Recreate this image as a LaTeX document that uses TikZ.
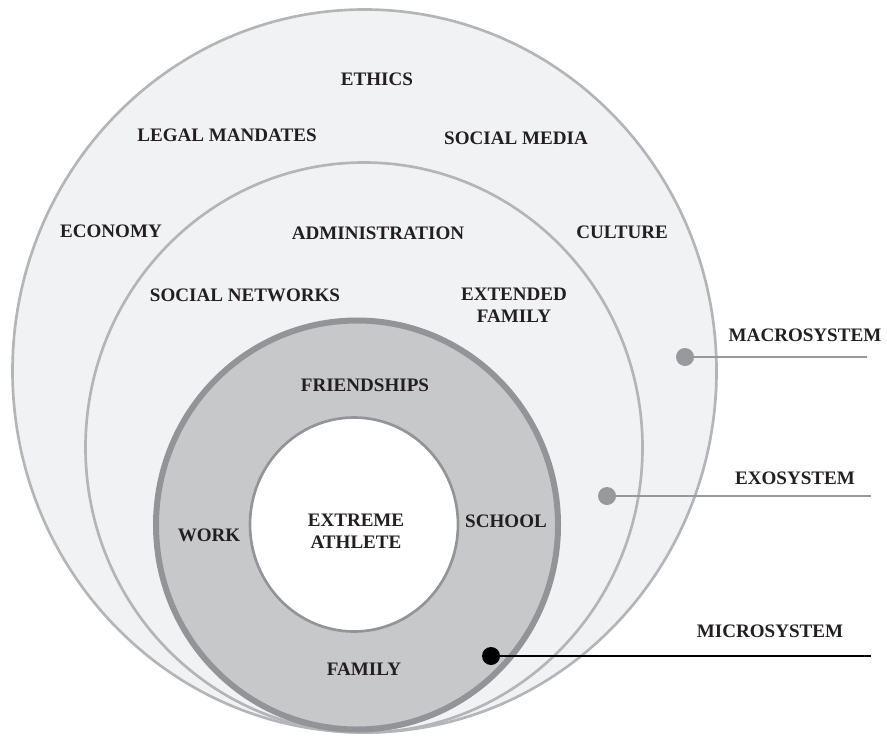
\documentclass[tikz,border=0pt]{standalone}
\usepackage{fontspec}
\setmainfont{Liberation Serif}
\usepackage{tikz}

\definecolor{sysfill}{RGB}{241,242,244}
\definecolor{sysline}{RGB}{180,181,184}
\definecolor{microfill}{RGB}{199,200,202}
\definecolor{microline}{RGB}{146,148,151}
\definecolor{leadgray}{RGB}{152,153,156}
\definecolor{ink}{RGB}{35,31,32}

\tikzset{
  word/.style={font=\fontsize{14.3}{16.5}\selectfont\bfseries, align=center, inner sep=0pt, text=ink},
  dot/.style={circle, fill=#1, minimum size=13.5pt, inner sep=0pt},
  lead/.style={draw=#1, line width=2pt},
}

\begin{document}
\begin{tikzpicture}[x=0.75pt, y=-0.75pt]
      \useasboundingbox (0,0) rectangle (887,735);

      % the four nested systems
      \draw[sysline, fill=sysfill, line width=2pt] (364.5,371) ellipse [x radius=352, y radius=361.5];
      \draw[sysline, fill=sysfill, line width=2pt] (364,447.5) ellipse [x radius=278.5, y radius=285];
      \draw[microline, fill=microfill, line width=4.5pt] (357,525) ellipse [x radius=201, y radius=204.5];
      \draw[microline, fill=white, line width=2pt] (354,524.5) ellipse [x radius=104, y radius=107];

      % macrosystem
      \node[word] (ethics) at (377,79) {ETHICS};
      \node[word] (legal) at (227,135) {LEGAL MANDATES};
      \node[word] (media) at (516,138) {SOCIAL MEDIA};
      \node[word] (economy) at (111,231) {ECONOMY};
      \node[word] (culture) at (622,232) {CULTURE};

      % exosystem
      \node[word] (admin) at (378,233) {ADMINISTRATION};
      \node[word] (networks) at (245,295) {SOCIAL NETWORKS};
      \node[word] (extended) at (514,305) {EXTENDED\\FAMILY};

      % microsystem
      \node[word] (friends) at (365,385) {FRIENDSHIPS};
      \node[word] (work) at (209,535) {WORK};
      \node[word] (school) at (506,521) {SCHOOL};
      \node[word] (family) at (364,669) {FAMILY};
      \node[word] (athlete) at (356,531) {EXTREME\\ATHLETE};

      % pointers to the system names
      \node[dot=leadgray] (macrodot) at (685,357) {};
      \node[dot=leadgray] (exodot) at (607,496) {};
      \node[dot=black] (microdot) at (491,656) {};
      \coordinate (macroend) at (867,357);
      \coordinate (exoend) at (871,496);
      \coordinate (microend) at (871,656);
      \draw[lead=leadgray] (macrodot.center) -- (macroend);
      \draw[lead=leadgray] (exodot.center) -- (exoend);
      \draw[lead=black] (microdot.center) -- (microend);

      \node[word] (macro) at (805,335) {MACROSYSTEM};
      \node[word] (exo) at (795,478) {EXOSYSTEM};
      \node[word] (micro) at (770,631) {MICROSYSTEM};

    \end{tikzpicture}
\end{document}
